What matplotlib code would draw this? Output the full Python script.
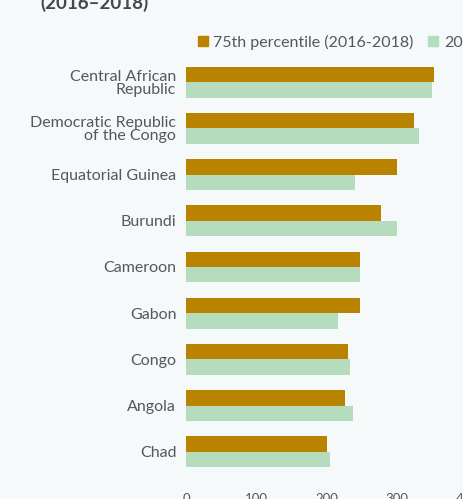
import matplotlib
matplotlib.use("Agg")
import matplotlib.pyplot as plt
import numpy as np
from matplotlib.patches import Patch

countries = [
    "Central African\nRepublic",
    "Democratic Republic\nof the Congo",
    "Equatorial Guinea",
    "Burundi",
    "Cameroon",
    "Gabon",
    "Congo",
    "Angola",
    "Chad",
]
p75_2016_2018 = [353, 324, 301, 278, 248, 248, 230, 226, 200]
latest_2019 = [350, 331, 241, 301, 247, 216, 234, 238, 205]
xticks = [0, 100, 200, 300, 400]

BG = "#f5f9fa"
ORANGE = "#b98300"
GREEN = "#b5dcbd"
TEXT = "#55585b"

plt.rcParams["font.family"] = ["Lato", "DejaVu Sans"]

W, H = 464, 499
fig = plt.figure(figsize=(W / 100, H / 100), dpi=100, facecolor=BG)

# axes placed in pixel terms: x from 186px, y from 59px to 475px
left, right = 186, 467
top, bottom = 59, 475
ax = fig.add_axes([left / W, (H - bottom) / H, (right - left) / W, (bottom - top) / H])
ax.set_facecolor(BG)

y = np.arange(len(countries))
h = 0.335
ax.barh(y - h / 2, p75_2016_2018, height=h, color=ORANGE, label="75th percentile (2016-2018)")
ax.barh(y + h / 2, latest_2019, height=h, color=GREEN, label="2019")

ax.set_ylim(len(countries) - 0.5, -0.5)
ax.set_xlim(0, 400)
ax.set_yticks(y)
ax.set_yticklabels(countries, fontsize=11.5, color=TEXT, linespacing=0.95)
ax.set_xticks(xticks)
ax.set_xticklabels([str(t) for t in xticks], fontsize=9.5, color=TEXT)
ax.tick_params(axis="y", length=0, pad=7)
ax.tick_params(axis="x", length=0, pad=13)
for s in ax.spines.values():
    s.set_visible(False)

handles = [Patch(color=ORANGE), Patch(color=GREEN)]
fig.legend(handles, ["75th percentile (2016-2018)", "2019"], ncol=2, frameon=False,
           loc="center left", bbox_to_anchor=(198 / W, 1 - 42 / H),
           handlelength=0.62, handleheight=0.62, handletextpad=0.35, columnspacing=0.9,
           fontsize=11.5, labelcolor=TEXT, borderaxespad=0, borderpad=0)

fig.text(40 / W, 1 - 3 / H, "(2016–2018)", fontsize=13.5, fontweight="bold",
         color="#45484b", ha="left", va="center")

fig.savefig("out.png", dpi=100, facecolor=BG)
